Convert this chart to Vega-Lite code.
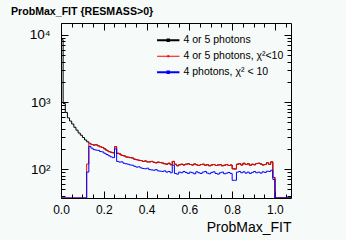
{
  "$schema": "https://vega.github.io/schema/vega-lite/v6.json",
  "width": 230,
  "height": 175,
  "autosize": {"type": "none"},
  "padding": {"left": 61, "top": 23, "right": 55, "bottom": 42},
  "background": "#f6faf8",
  "config": {
    "font": "Liberation Sans",
    "view": {"stroke": "#000000", "strokeWidth": 1, "fill": "#f6faf8"},
    "axis": {"domain": false, "grid": false, "tickColor": "#000000", "labelColor": "#000000", "titleColor": "#000000", "labelFont": "Liberation Sans", "titleFont": "Liberation Sans"}
  },
  "title": {"text": "ProbMax_FIT {RESMASS>0}", "anchor": "start", "frame": "group", "dx": -50, "offset": 5, "fontSize": 10.6, "fontWeight": "bold", "font": "Liberation Sans", "color": "#000000"},
  "data": {"values": [
    {"s": "4 or 5 photons", "x": 0.00, "n": 8500},
    {"s": "4 or 5 photons", "x": 0.01, "n": 950},
    {"s": "4 or 5 photons", "x": 0.02, "n": 700},
    {"s": "4 or 5 photons", "x": 0.03, "n": 580},
    {"s": "4 or 5 photons", "x": 0.04, "n": 520},
    {"s": "4 or 5 photons", "x": 0.05, "n": 470},
    {"s": "4 or 5 photons", "x": 0.06, "n": 420},
    {"s": "4 or 5 photons", "x": 0.07, "n": 380},
    {"s": "4 or 5 photons", "x": 0.08, "n": 345},
    {"s": "4 or 5 photons", "x": 0.09, "n": 320},
    {"s": "4 or 5 photons", "x": 0.10, "n": 295},
    {"s": "4 or 5 photons", "x": 0.11, "n": 272},
    {"s": "4 or 5 photons", "x": 0.12, "n": 255},
    {"s": "4 or 5 photons", "x": 0.13, "n": 242},
    {"s": "4 or 5 photons", "x": 0.14, "n": 232},
    {"s": "4 or 5 photons", "x": 0.15, "n": 228},
    {"s": "4 or 5 photons", "x": 0.16, "n": 230},
    {"s": "4 or 5 photons", "x": 0.17, "n": 222},
    {"s": "4 or 5 photons", "x": 0.18, "n": 215},
    {"s": "4 or 5 photons", "x": 0.19, "n": 210},
    {"s": "4 or 5 photons", "x": 0.20, "n": 200},
    {"s": "4 or 5 photons", "x": 0.21, "n": 190},
    {"s": "4 or 5 photons", "x": 0.22, "n": 182},
    {"s": "4 or 5 photons", "x": 0.23, "n": 178},
    {"s": "4 or 5 photons", "x": 0.24, "n": 175},
    {"s": "4 or 5 photons", "x": 0.25, "n": 215},
    {"s": "4 or 5 photons", "x": 0.26, "n": 172},
    {"s": "4 or 5 photons", "x": 0.27, "n": 168},
    {"s": "4 or 5 photons", "x": 0.28, "n": 160},
    {"s": "4 or 5 photons", "x": 0.29, "n": 158},
    {"s": "4 or 5 photons", "x": 0.30, "n": 152},
    {"s": "4 or 5 photons", "x": 0.31, "n": 150},
    {"s": "4 or 5 photons", "x": 0.32, "n": 148},
    {"s": "4 or 5 photons", "x": 0.33, "n": 146},
    {"s": "4 or 5 photons", "x": 0.34, "n": 140},
    {"s": "4 or 5 photons", "x": 0.35, "n": 138},
    {"s": "4 or 5 photons", "x": 0.36, "n": 135},
    {"s": "4 or 5 photons", "x": 0.37, "n": 134},
    {"s": "4 or 5 photons", "x": 0.38, "n": 130},
    {"s": "4 or 5 photons", "x": 0.39, "n": 132},
    {"s": "4 or 5 photons", "x": 0.40, "n": 128},
    {"s": "4 or 5 photons", "x": 0.41, "n": 128},
    {"s": "4 or 5 photons", "x": 0.42, "n": 130},
    {"s": "4 or 5 photons", "x": 0.43, "n": 126},
    {"s": "4 or 5 photons", "x": 0.44, "n": 124},
    {"s": "4 or 5 photons", "x": 0.45, "n": 127},
    {"s": "4 or 5 photons", "x": 0.46, "n": 125},
    {"s": "4 or 5 photons", "x": 0.47, "n": 123},
    {"s": "4 or 5 photons", "x": 0.48, "n": 120},
    {"s": "4 or 5 photons", "x": 0.49, "n": 118},
    {"s": "4 or 5 photons", "x": 0.50, "n": 122},
    {"s": "4 or 5 photons", "x": 0.51, "n": 116},
    {"s": "4 or 5 photons", "x": 0.52, "n": 130},
    {"s": "4 or 5 photons", "x": 0.53, "n": 118},
    {"s": "4 or 5 photons", "x": 0.54, "n": 112},
    {"s": "4 or 5 photons", "x": 0.55, "n": 116},
    {"s": "4 or 5 photons", "x": 0.56, "n": 118},
    {"s": "4 or 5 photons", "x": 0.57, "n": 115},
    {"s": "4 or 5 photons", "x": 0.58, "n": 118},
    {"s": "4 or 5 photons", "x": 0.59, "n": 120},
    {"s": "4 or 5 photons", "x": 0.60, "n": 117},
    {"s": "4 or 5 photons", "x": 0.61, "n": 115},
    {"s": "4 or 5 photons", "x": 0.62, "n": 119},
    {"s": "4 or 5 photons", "x": 0.63, "n": 116},
    {"s": "4 or 5 photons", "x": 0.64, "n": 113},
    {"s": "4 or 5 photons", "x": 0.65, "n": 117},
    {"s": "4 or 5 photons", "x": 0.66, "n": 118},
    {"s": "4 or 5 photons", "x": 0.67, "n": 114},
    {"s": "4 or 5 photons", "x": 0.68, "n": 116},
    {"s": "4 or 5 photons", "x": 0.69, "n": 112},
    {"s": "4 or 5 photons", "x": 0.70, "n": 115},
    {"s": "4 or 5 photons", "x": 0.71, "n": 117},
    {"s": "4 or 5 photons", "x": 0.72, "n": 113},
    {"s": "4 or 5 photons", "x": 0.73, "n": 115},
    {"s": "4 or 5 photons", "x": 0.74, "n": 116},
    {"s": "4 or 5 photons", "x": 0.75, "n": 112},
    {"s": "4 or 5 photons", "x": 0.76, "n": 114},
    {"s": "4 or 5 photons", "x": 0.77, "n": 117},
    {"s": "4 or 5 photons", "x": 0.78, "n": 113},
    {"s": "4 or 5 photons", "x": 0.79, "n": 115},
    {"s": "4 or 5 photons", "x": 0.80, "n": 101},
    {"s": "4 or 5 photons", "x": 0.81, "n": 100},
    {"s": "4 or 5 photons", "x": 0.82, "n": 118},
    {"s": "4 or 5 photons", "x": 0.83, "n": 120},
    {"s": "4 or 5 photons", "x": 0.84, "n": 115},
    {"s": "4 or 5 photons", "x": 0.85, "n": 122},
    {"s": "4 or 5 photons", "x": 0.86, "n": 117},
    {"s": "4 or 5 photons", "x": 0.87, "n": 120},
    {"s": "4 or 5 photons", "x": 0.88, "n": 114},
    {"s": "4 or 5 photons", "x": 0.89, "n": 118},
    {"s": "4 or 5 photons", "x": 0.90, "n": 116},
    {"s": "4 or 5 photons", "x": 0.91, "n": 121},
    {"s": "4 or 5 photons", "x": 0.92, "n": 122},
    {"s": "4 or 5 photons", "x": 0.93, "n": 119},
    {"s": "4 or 5 photons", "x": 0.94, "n": 115},
    {"s": "4 or 5 photons", "x": 0.95, "n": 117},
    {"s": "4 or 5 photons", "x": 0.96, "n": 124},
    {"s": "4 or 5 photons", "x": 0.97, "n": 118},
    {"s": "4 or 5 photons", "x": 0.98, "n": 128},
    {"s": "4 or 5 photons", "x": 0.99, "n": 75},
    {"s": "4 or 5 photons", "x": 1.00, "n": 0},
    {"s": "4 or 5 photons", "x": 1.075, "n": 0},

    {"s": "4 or 5 photons, χ²<10", "x": 0.00, "n": 0},
    {"s": "4 or 5 photons, χ²<10", "x": 0.12, "n": 119},
    {"s": "4 or 5 photons, χ²<10", "x": 0.13, "n": 240},
    {"s": "4 or 5 photons, χ²<10", "x": 0.14, "n": 232},
    {"s": "4 or 5 photons, χ²<10", "x": 0.15, "n": 228},
    {"s": "4 or 5 photons, χ²<10", "x": 0.16, "n": 230},
    {"s": "4 or 5 photons, χ²<10", "x": 0.17, "n": 222},
    {"s": "4 or 5 photons, χ²<10", "x": 0.18, "n": 215},
    {"s": "4 or 5 photons, χ²<10", "x": 0.19, "n": 210},
    {"s": "4 or 5 photons, χ²<10", "x": 0.20, "n": 200},
    {"s": "4 or 5 photons, χ²<10", "x": 0.21, "n": 190},
    {"s": "4 or 5 photons, χ²<10", "x": 0.22, "n": 182},
    {"s": "4 or 5 photons, χ²<10", "x": 0.23, "n": 178},
    {"s": "4 or 5 photons, χ²<10", "x": 0.24, "n": 175},
    {"s": "4 or 5 photons, χ²<10", "x": 0.25, "n": 215},
    {"s": "4 or 5 photons, χ²<10", "x": 0.26, "n": 172},
    {"s": "4 or 5 photons, χ²<10", "x": 0.27, "n": 168},
    {"s": "4 or 5 photons, χ²<10", "x": 0.28, "n": 160},
    {"s": "4 or 5 photons, χ²<10", "x": 0.29, "n": 158},
    {"s": "4 or 5 photons, χ²<10", "x": 0.30, "n": 152},
    {"s": "4 or 5 photons, χ²<10", "x": 0.31, "n": 150},
    {"s": "4 or 5 photons, χ²<10", "x": 0.32, "n": 148},
    {"s": "4 or 5 photons, χ²<10", "x": 0.33, "n": 146},
    {"s": "4 or 5 photons, χ²<10", "x": 0.34, "n": 140},
    {"s": "4 or 5 photons, χ²<10", "x": 0.35, "n": 138},
    {"s": "4 or 5 photons, χ²<10", "x": 0.36, "n": 135},
    {"s": "4 or 5 photons, χ²<10", "x": 0.37, "n": 134},
    {"s": "4 or 5 photons, χ²<10", "x": 0.38, "n": 130},
    {"s": "4 or 5 photons, χ²<10", "x": 0.39, "n": 132},
    {"s": "4 or 5 photons, χ²<10", "x": 0.40, "n": 128},
    {"s": "4 or 5 photons, χ²<10", "x": 0.41, "n": 128},
    {"s": "4 or 5 photons, χ²<10", "x": 0.42, "n": 130},
    {"s": "4 or 5 photons, χ²<10", "x": 0.43, "n": 126},
    {"s": "4 or 5 photons, χ²<10", "x": 0.44, "n": 124},
    {"s": "4 or 5 photons, χ²<10", "x": 0.45, "n": 127},
    {"s": "4 or 5 photons, χ²<10", "x": 0.46, "n": 125},
    {"s": "4 or 5 photons, χ²<10", "x": 0.47, "n": 123},
    {"s": "4 or 5 photons, χ²<10", "x": 0.48, "n": 120},
    {"s": "4 or 5 photons, χ²<10", "x": 0.49, "n": 118},
    {"s": "4 or 5 photons, χ²<10", "x": 0.50, "n": 122},
    {"s": "4 or 5 photons, χ²<10", "x": 0.51, "n": 116},
    {"s": "4 or 5 photons, χ²<10", "x": 0.52, "n": 130},
    {"s": "4 or 5 photons, χ²<10", "x": 0.53, "n": 118},
    {"s": "4 or 5 photons, χ²<10", "x": 0.54, "n": 112},
    {"s": "4 or 5 photons, χ²<10", "x": 0.55, "n": 116},
    {"s": "4 or 5 photons, χ²<10", "x": 0.56, "n": 118},
    {"s": "4 or 5 photons, χ²<10", "x": 0.57, "n": 115},
    {"s": "4 or 5 photons, χ²<10", "x": 0.58, "n": 118},
    {"s": "4 or 5 photons, χ²<10", "x": 0.59, "n": 120},
    {"s": "4 or 5 photons, χ²<10", "x": 0.60, "n": 117},
    {"s": "4 or 5 photons, χ²<10", "x": 0.61, "n": 115},
    {"s": "4 or 5 photons, χ²<10", "x": 0.62, "n": 119},
    {"s": "4 or 5 photons, χ²<10", "x": 0.63, "n": 116},
    {"s": "4 or 5 photons, χ²<10", "x": 0.64, "n": 113},
    {"s": "4 or 5 photons, χ²<10", "x": 0.65, "n": 117},
    {"s": "4 or 5 photons, χ²<10", "x": 0.66, "n": 118},
    {"s": "4 or 5 photons, χ²<10", "x": 0.67, "n": 114},
    {"s": "4 or 5 photons, χ²<10", "x": 0.68, "n": 116},
    {"s": "4 or 5 photons, χ²<10", "x": 0.69, "n": 112},
    {"s": "4 or 5 photons, χ²<10", "x": 0.70, "n": 115},
    {"s": "4 or 5 photons, χ²<10", "x": 0.71, "n": 117},
    {"s": "4 or 5 photons, χ²<10", "x": 0.72, "n": 113},
    {"s": "4 or 5 photons, χ²<10", "x": 0.73, "n": 115},
    {"s": "4 or 5 photons, χ²<10", "x": 0.74, "n": 116},
    {"s": "4 or 5 photons, χ²<10", "x": 0.75, "n": 112},
    {"s": "4 or 5 photons, χ²<10", "x": 0.76, "n": 114},
    {"s": "4 or 5 photons, χ²<10", "x": 0.77, "n": 117},
    {"s": "4 or 5 photons, χ²<10", "x": 0.78, "n": 113},
    {"s": "4 or 5 photons, χ²<10", "x": 0.79, "n": 115},
    {"s": "4 or 5 photons, χ²<10", "x": 0.80, "n": 101},
    {"s": "4 or 5 photons, χ²<10", "x": 0.81, "n": 100},
    {"s": "4 or 5 photons, χ²<10", "x": 0.82, "n": 118},
    {"s": "4 or 5 photons, χ²<10", "x": 0.83, "n": 120},
    {"s": "4 or 5 photons, χ²<10", "x": 0.84, "n": 115},
    {"s": "4 or 5 photons, χ²<10", "x": 0.85, "n": 122},
    {"s": "4 or 5 photons, χ²<10", "x": 0.86, "n": 117},
    {"s": "4 or 5 photons, χ²<10", "x": 0.87, "n": 120},
    {"s": "4 or 5 photons, χ²<10", "x": 0.88, "n": 114},
    {"s": "4 or 5 photons, χ²<10", "x": 0.89, "n": 118},
    {"s": "4 or 5 photons, χ²<10", "x": 0.90, "n": 116},
    {"s": "4 or 5 photons, χ²<10", "x": 0.91, "n": 121},
    {"s": "4 or 5 photons, χ²<10", "x": 0.92, "n": 122},
    {"s": "4 or 5 photons, χ²<10", "x": 0.93, "n": 119},
    {"s": "4 or 5 photons, χ²<10", "x": 0.94, "n": 115},
    {"s": "4 or 5 photons, χ²<10", "x": 0.95, "n": 117},
    {"s": "4 or 5 photons, χ²<10", "x": 0.96, "n": 124},
    {"s": "4 or 5 photons, χ²<10", "x": 0.97, "n": 118},
    {"s": "4 or 5 photons, χ²<10", "x": 0.98, "n": 128},
    {"s": "4 or 5 photons, χ²<10", "x": 0.99, "n": 75},
    {"s": "4 or 5 photons, χ²<10", "x": 1.00, "n": 0},
    {"s": "4 or 5 photons, χ²<10", "x": 1.075, "n": 0},

    {"s": "4 photons, χ² < 10", "x": 0.00, "n": 0},
    {"s": "4 photons, χ² < 10", "x": 0.12, "n": 90},
    {"s": "4 photons, χ² < 10", "x": 0.13, "n": 218},
    {"s": "4 photons, χ² < 10", "x": 0.14, "n": 205},
    {"s": "4 photons, χ² < 10", "x": 0.15, "n": 195},
    {"s": "4 photons, χ² < 10", "x": 0.16, "n": 192},
    {"s": "4 photons, χ² < 10", "x": 0.17, "n": 190},
    {"s": "4 photons, χ² < 10", "x": 0.18, "n": 183},
    {"s": "4 photons, χ² < 10", "x": 0.19, "n": 180},
    {"s": "4 photons, χ² < 10", "x": 0.20, "n": 172},
    {"s": "4 photons, χ² < 10", "x": 0.21, "n": 165},
    {"s": "4 photons, χ² < 10", "x": 0.22, "n": 158},
    {"s": "4 photons, χ² < 10", "x": 0.23, "n": 152},
    {"s": "4 photons, χ² < 10", "x": 0.24, "n": 148},
    {"s": "4 photons, χ² < 10", "x": 0.25, "n": 200},
    {"s": "4 photons, χ² < 10", "x": 0.26, "n": 130},
    {"s": "4 photons, χ² < 10", "x": 0.27, "n": 127},
    {"s": "4 photons, χ² < 10", "x": 0.28, "n": 128},
    {"s": "4 photons, χ² < 10", "x": 0.29, "n": 122},
    {"s": "4 photons, χ² < 10", "x": 0.30, "n": 120},
    {"s": "4 photons, χ² < 10", "x": 0.31, "n": 118},
    {"s": "4 photons, χ² < 10", "x": 0.32, "n": 115},
    {"s": "4 photons, χ² < 10", "x": 0.33, "n": 114},
    {"s": "4 photons, χ² < 10", "x": 0.34, "n": 110},
    {"s": "4 photons, χ² < 10", "x": 0.35, "n": 107},
    {"s": "4 photons, χ² < 10", "x": 0.36, "n": 108},
    {"s": "4 photons, χ² < 10", "x": 0.37, "n": 104},
    {"s": "4 photons, χ² < 10", "x": 0.38, "n": 102},
    {"s": "4 photons, χ² < 10", "x": 0.39, "n": 101},
    {"s": "4 photons, χ² < 10", "x": 0.40, "n": 103},
    {"s": "4 photons, χ² < 10", "x": 0.41, "n": 98},
    {"s": "4 photons, χ² < 10", "x": 0.42, "n": 97},
    {"s": "4 photons, χ² < 10", "x": 0.43, "n": 96},
    {"s": "4 photons, χ² < 10", "x": 0.44, "n": 98},
    {"s": "4 photons, χ² < 10", "x": 0.45, "n": 94},
    {"s": "4 photons, χ² < 10", "x": 0.46, "n": 93},
    {"s": "4 photons, χ² < 10", "x": 0.47, "n": 92},
    {"s": "4 photons, χ² < 10", "x": 0.48, "n": 94},
    {"s": "4 photons, χ² < 10", "x": 0.49, "n": 90},
    {"s": "4 photons, χ² < 10", "x": 0.50, "n": 92},
    {"s": "4 photons, χ² < 10", "x": 0.51, "n": 88},
    {"s": "4 photons, χ² < 10", "x": 0.52, "n": 114},
    {"s": "4 photons, χ² < 10", "x": 0.53, "n": 86},
    {"s": "4 photons, χ² < 10", "x": 0.54, "n": 84},
    {"s": "4 photons, χ² < 10", "x": 0.55, "n": 90},
    {"s": "4 photons, χ² < 10", "x": 0.56, "n": 88},
    {"s": "4 photons, χ² < 10", "x": 0.57, "n": 92},
    {"s": "4 photons, χ² < 10", "x": 0.58, "n": 89},
    {"s": "4 photons, χ² < 10", "x": 0.59, "n": 86},
    {"s": "4 photons, χ² < 10", "x": 0.60, "n": 90},
    {"s": "4 photons, χ² < 10", "x": 0.61, "n": 88},
    {"s": "4 photons, χ² < 10", "x": 0.62, "n": 85},
    {"s": "4 photons, χ² < 10", "x": 0.63, "n": 91},
    {"s": "4 photons, χ² < 10", "x": 0.64, "n": 88},
    {"s": "4 photons, χ² < 10", "x": 0.65, "n": 86},
    {"s": "4 photons, χ² < 10", "x": 0.66, "n": 90},
    {"s": "4 photons, χ² < 10", "x": 0.67, "n": 92},
    {"s": "4 photons, χ² < 10", "x": 0.68, "n": 87},
    {"s": "4 photons, χ² < 10", "x": 0.69, "n": 85},
    {"s": "4 photons, χ² < 10", "x": 0.70, "n": 89},
    {"s": "4 photons, χ² < 10", "x": 0.71, "n": 91},
    {"s": "4 photons, χ² < 10", "x": 0.72, "n": 86},
    {"s": "4 photons, χ² < 10", "x": 0.73, "n": 84},
    {"s": "4 photons, χ² < 10", "x": 0.74, "n": 88},
    {"s": "4 photons, χ² < 10", "x": 0.75, "n": 90},
    {"s": "4 photons, χ² < 10", "x": 0.76, "n": 85},
    {"s": "4 photons, χ² < 10", "x": 0.77, "n": 87},
    {"s": "4 photons, χ² < 10", "x": 0.78, "n": 89},
    {"s": "4 photons, χ² < 10", "x": 0.79, "n": 86},
    {"s": "4 photons, χ² < 10", "x": 0.80, "n": 68},
    {"s": "4 photons, χ² < 10", "x": 0.81, "n": 68},
    {"s": "4 photons, χ² < 10", "x": 0.82, "n": 90},
    {"s": "4 photons, χ² < 10", "x": 0.83, "n": 92},
    {"s": "4 photons, χ² < 10", "x": 0.84, "n": 88},
    {"s": "4 photons, χ² < 10", "x": 0.85, "n": 91},
    {"s": "4 photons, χ² < 10", "x": 0.86, "n": 87},
    {"s": "4 photons, χ² < 10", "x": 0.87, "n": 90},
    {"s": "4 photons, χ² < 10", "x": 0.88, "n": 86},
    {"s": "4 photons, χ² < 10", "x": 0.89, "n": 89},
    {"s": "4 photons, χ² < 10", "x": 0.90, "n": 92},
    {"s": "4 photons, χ² < 10", "x": 0.91, "n": 88},
    {"s": "4 photons, χ² < 10", "x": 0.92, "n": 90},
    {"s": "4 photons, χ² < 10", "x": 0.93, "n": 87},
    {"s": "4 photons, χ² < 10", "x": 0.94, "n": 91},
    {"s": "4 photons, χ² < 10", "x": 0.95, "n": 89},
    {"s": "4 photons, χ² < 10", "x": 0.96, "n": 93},
    {"s": "4 photons, χ² < 10", "x": 0.97, "n": 92},
    {"s": "4 photons, χ² < 10", "x": 0.98, "n": 96},
    {"s": "4 photons, χ² < 10", "x": 0.99, "n": 70},
    {"s": "4 photons, χ² < 10", "x": 1.00, "n": 0},
    {"s": "4 photons, χ² < 10", "x": 1.075, "n": 0}
  ]},
  "layer": [
    {
      "mark": {"type": "line", "interpolate": "step-after", "strokeWidth": 1, "clip": true},
      "encoding": {
        "x": {"field": "x", "type": "quantitative",
          "scale": {"domain": [0, 1.075], "nice": false, "zero": false},
          "axis": {
            "orient": "bottom",
            "values": [0, 0.05, 0.1, 0.15, 0.2, 0.25, 0.3, 0.35, 0.4, 0.45, 0.5, 0.55, 0.6, 0.65, 0.7, 0.75, 0.8, 0.85, 0.9, 0.95, 1.0, 1.05],
            "labelExpr": "abs(datum.value*5 - round(datum.value*5)) < 0.001 ? format(datum.value, '.1f') : ''",
            "tickSize": {"condition": {"test": "abs(datum.value*5 - round(datum.value*5)) < 0.001", "value": -7}, "value": -4},
            "labelPadding": 13,
            "labelFontSize": 12,
            "labelFlush": false,
            "labelOverlap": false,
            "title": "ProbMax_FIT",
            "titleAnchor": "end",
            "titleFontSize": 14,
            "titleFontWeight": "normal",
            "titlePadding": 2
          }
        },
        "y": {"field": "n", "type": "quantitative",
          "scale": {"type": "log", "domain": [37, 15100], "nice": false, "clamp": true},
          "axis": {
            "orient": "left",
            "values": [40, 50, 60, 70, 80, 90, 100, 200, 300, 400, 500, 600, 700, 800, 900, 1000, 2000, 3000, 4000, 5000, 6000, 7000, 8000, 9000, 10000],
            "labelExpr": "datum.value == 100 ? '10²' : datum.value == 1000 ? '10³' : datum.value == 10000 ? '10⁴' : ''",
            "tickSize": {"condition": {"test": "datum.value == 100 || datum.value == 1000 || datum.value == 10000", "value": -7}, "value": -4},
            "labelPadding": 18,
            "labelFontSize": 13.5,
            "labelOverlap": false,
            "labelFlush": false,
            "title": null
          }
        },
        "color": {"field": "s", "type": "nominal",
          "scale": {"domain": ["4 or 5 photons", "4 or 5 photons, χ²<10", "4 photons, χ² < 10"], "range": ["#000000", "#ff0000", "#0000ff"]},
          "sort": ["4 or 5 photons", "4 or 5 photons, χ²<10", "4 photons, χ² < 10"],
          "legend": {
            "orient": "none", "legendX": 102, "legendY": 12, "title": null,
            "symbolType": "M-1.4,0H1.4M-0.08,-0.08H0.08V0.08H-0.08Z",
            "symbolSize": 256, "symbolStrokeWidth": 1.5, "symbolFillColor": "transparent",
            "labelFontSize": 10.5, "labelOffset": 10, "rowPadding": 5, "padding": 0,
            "labelFont": "Liberation Sans", "labelColor": "#000000",
            "encode": {"symbols": {"update": {
              "stroke": {"signal": "datum.value === '4 or 5 photons' ? '#7f7f7f' : datum.value === '4 photons, χ² < 10' ? '#7f7fff' : '#ff0000'"},
              "strokeWidth": {"signal": "datum.value === '4 or 5 photons, χ²<10' ? 1 : 2"}
            }}}
          }
        }
      }
    },
    {
      "mark": {"type": "line", "opacity": 0},
      "encoding": {
        "x": {"field": "x", "type": "quantitative",
          "axis": {"orient": "top", "values": [0, 0.05, 0.1, 0.15, 0.2, 0.25, 0.3, 0.35, 0.4, 0.45, 0.5, 0.55, 0.6, 0.65, 0.7, 0.75, 0.8, 0.85, 0.9, 0.95, 1.0, 1.05],
            "labels": false, "title": null,
            "tickSize": {"condition": {"test": "abs(datum.value*5 - round(datum.value*5)) < 0.001", "value": -7}, "value": -4}}},
        "y": {"field": "n", "type": "quantitative",
          "axis": {"orient": "right", "values": [40, 50, 60, 70, 80, 90, 100, 200, 300, 400, 500, 600, 700, 800, 900, 1000, 2000, 3000, 4000, 5000, 6000, 7000, 8000, 9000, 10000],
            "labels": false, "title": null,
            "tickSize": {"condition": {"test": "datum.value == 100 || datum.value == 1000 || datum.value == 10000", "value": -7}, "value": -4}}},
        "detail": {"field": "s", "type": "nominal"}
      }
    }
  ],
  "resolve": {"axis": {"x": "independent", "y": "independent"}}
}
